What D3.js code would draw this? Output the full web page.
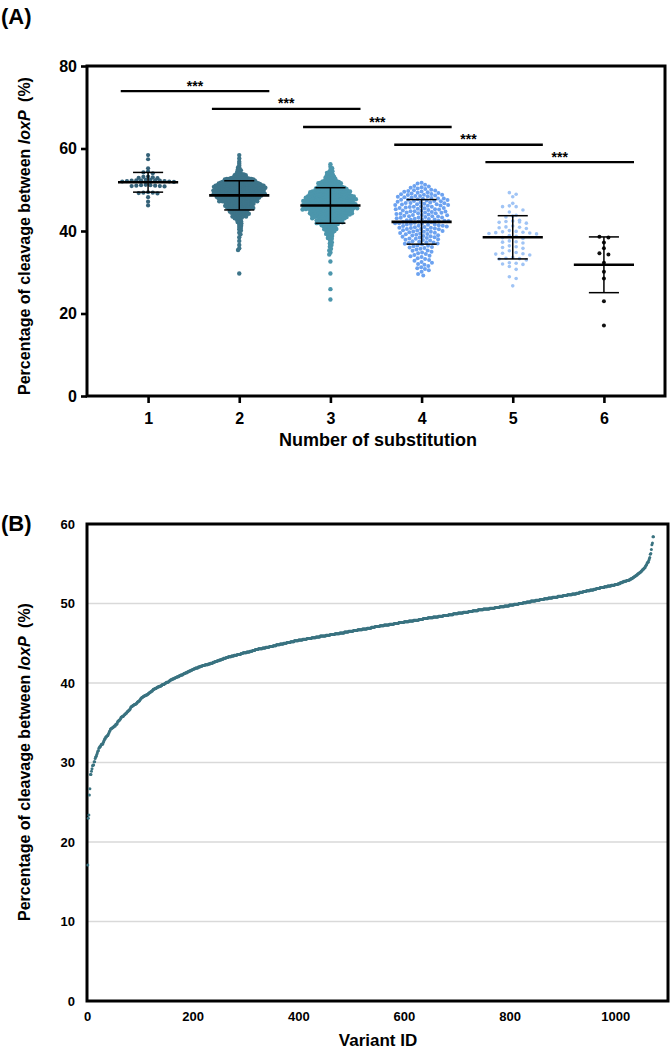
<!DOCTYPE html>
<html><head><meta charset="utf-8">
<script src="https://cdn.jsdelivr.net/npm/d3@7"></script>
<style>
body{margin:0;background:#fff}
svg{display:block;font-family:"Liberation Sans",Arial,sans-serif;font-weight:bold}
</style>
</head><body>
<svg id="chart" width="671" height="1050"></svg>
<script>
// ---------------- DATA ----------------
const groups = [1, 2, 3, 4, 5, 6];
const groupColors = ["#346178", "#3d7489", "#4c96ac", "#6ca2f0", "#a0c4f5", "#111111"];

// 1 substitution (individual values)
const sub1 = [58.4, 57.4, 55.2, 54.4, 54.2, 54.0, 53.2, 53.1, 53.0, 52.9, 52.8,
  52.4, 52.4, 52.3, 52.3, 52.3, 52.2, 52.2, 52.1, 52.1, 52.0, 52.0, 51.9,
  51.2, 51.1, 51.1, 51.0, 51.0, 50.9, 50.9, 50.8,
  49.4, 49.3, 49.3, 49.2, 49.1, 48.2, 47.1, 46.2];

// 2 substitutions ([value, count])
const sub2Freq = [
[58.4,1],[57.6,1],[56.8,1],[56.3,1],[55.8,1],[55.4,1],[55.1,1],
[54.9,1],[54.7,1],[54.5,1],[54.3,1],[54.1,1],
[53.9,1],[53.8,2],[53.7,1],[53.6,1],[53.5,2],[53.4,1],[53.3,1],[53.2,1],[53.1,1],[53.0,1],
[52.9,3],[52.8,3],[52.7,3],[52.6,3],[52.5,3],[52.4,3],[52.3,3],[52.2,4],[52.1,3],[52.0,4],
[51.9,4],[51.8,4],[51.7,4],[51.6,5],[51.5,4],[51.4,5],[51.3,4],[51.2,5],[51.1,5],[51.0,5],
[50.9,5],[50.8,6],[50.7,5],[50.6,5],[50.5,5],[50.4,6],[50.3,5],[50.2,5],[50.1,5],[50.0,5],
[49.9,5],[49.8,5],[49.7,5],[49.6,5],[49.5,5],[49.4,5],[49.3,5],[49.2,5],[49.1,5],[49.0,5],
[48.9,5],[48.8,4],[48.7,5],[48.6,4],[48.5,5],[48.4,4],[48.3,5],[48.2,4],[48.1,5],[48.0,4],
[47.9,4],[47.8,4],[47.7,4],[47.6,4],[47.5,4],[47.4,4],[47.3,4],[47.2,4],[47.1,3],[47.0,3],
[46.9,3],[46.8,3],[46.7,3],[46.6,3],[46.5,3],[46.4,3],[46.3,3],[46.2,3],[46.1,3],[46.0,3],
[45.9,3],[45.8,3],[45.7,3],[45.6,3],[45.5,3],[45.4,3],[45.3,2],[45.2,2],[45.1,2],[45.0,2],
[44.9,2],[44.8,2],[44.7,2],[44.6,2],[44.5,2],[44.4,2],[44.3,2],[44.2,2],[44.1,1],[44.0,1],
[43.9,1],[43.8,2],[43.7,1],[43.6,1],[43.5,2],[43.4,1],[43.3,1],[43.2,1],[43.1,1],[43.0,1],
[42.9,1],[42.7,1],[42.5,1],[42.3,1],[42.2,1],[42.0,1],
[41.8,1],[41.5,1],[41.3,1],[41.0,1],[40.7,1],[40.4,1],[40.1,1],
[39.6,1],[39.2,1],[38.5,1],[37.6,1],[36.6,1],[35.8,1],[35.4,1],[29.7,1]
];

// 3 substitutions ([value, count])
const sub3Freq = [
[56.2,1],[55.6,1],[55.2,1],[54.8,1],[54.5,1],[54.3,1],[54.1,1],
[53.9,1],[53.7,1],[53.6,1],[53.4,1],[53.3,1],[53.1,1],[53.0,1],
[52.9,1],[52.8,1],[52.6,1],[52.5,1],[52.4,1],[52.3,1],[52.2,1],[52.1,1],[52.0,2],
[51.9,2],[51.8,1],[51.7,2],[51.6,2],[51.5,1],[51.4,2],[51.3,2],[51.2,1],[51.1,2],[51.0,1],
[50.9,2],[50.8,2],[50.7,3],[50.6,2],[50.5,2],[50.4,2],[50.3,3],[50.2,2],[50.1,2],[50.0,2],
[49.9,3],[49.8,3],[49.7,3],[49.6,3],[49.5,3],[49.4,3],[49.3,3],[49.2,3],[49.1,3],[49.0,2],
[48.9,3],[48.8,4],[48.7,3],[48.6,4],[48.5,3],[48.4,4],[48.3,3],[48.2,4],[48.1,3],[48.0,3],
[47.9,4],[47.8,4],[47.7,4],[47.6,4],[47.5,4],[47.4,4],[47.3,4],[47.2,3],[47.1,4],[47.0,3],
[46.9,4],[46.8,4],[46.7,4],[46.6,4],[46.5,4],[46.4,4],[46.3,4],[46.2,4],[46.1,4],[46.0,4],
[45.9,4],[45.8,4],[45.7,4],[45.6,4],[45.5,4],[45.4,4],[45.3,4],[45.2,4],[45.1,3],[45.0,3],
[44.9,4],[44.8,3],[44.7,3],[44.6,3],[44.5,3],[44.4,3],[44.3,4],[44.2,3],[44.1,3],[44.0,3],
[43.9,3],[43.8,3],[43.7,2],[43.6,3],[43.5,3],[43.4,2],[43.3,3],[43.2,2],[43.1,3],[43.0,2],
[42.9,2],[42.8,2],[42.7,2],[42.6,2],[42.5,2],[42.4,2],[42.3,2],[42.2,2],[42.1,2],[42.0,2],
[41.9,2],[41.8,1],[41.7,2],[41.6,1],[41.5,1],[41.4,2],[41.3,1],[41.2,1],[41.1,1],[41.0,1],
[40.9,1],[40.8,1],[40.7,1],[40.6,1],[40.5,1],[40.4,1],[40.3,1],[40.2,1],[40.1,1],[40.0,1],
[39.8,1],[39.6,1],[39.5,1],[39.3,1],[39.2,1],[39.0,1],
[38.8,1],[38.5,1],[38.3,1],[38.1,1],[37.7,1],[37.3,1],[37.0,1],
[36.6,1],[36.2,1],[35.7,1],[35.3,1],[34.8,1],[34.3,1],
[32.6,1],[29.7,1],[25.9,1],[23.4,1]
];

// 4 substitutions ([value, count])
const sub4Freq = [
[51.7,1],[51.5,1],[51.2,1],
[50.9,1],[50.8,1],[50.6,1],[50.5,1],[50.3,1],[50.2,1],[50.0,1],
[49.9,1],[49.8,1],[49.7,1],[49.6,1],[49.5,1],[49.4,1],[49.3,1],[49.2,1],[49.1,1],[49.0,1],
[48.9,1],[48.8,2],[48.7,1],[48.6,1],[48.5,2],[48.4,1],[48.3,1],[48.2,1],[48.1,1],[48.0,1],
[47.9,2],[47.8,1],[47.7,1],[47.6,2],[47.5,1],[47.4,1],[47.3,2],[47.2,1],[47.1,1],[47.0,1],
[46.9,1],[46.8,2],[46.7,1],[46.6,1],[46.5,2],[46.4,1],[46.3,2],[46.2,1],[46.1,1],[46.0,1],
[45.9,2],[45.8,1],[45.7,1],[45.6,2],[45.5,1],[45.4,1],[45.3,2],[45.2,1],[45.1,1],[45.0,1],
[44.9,1],[44.8,2],[44.7,1],[44.6,1],[44.5,2],[44.4,1],[44.3,2],[44.2,1],[44.1,1],[44.0,1],
[43.9,2],[43.8,1],[43.7,1],[43.6,2],[43.5,1],[43.4,1],[43.3,2],[43.2,1],[43.1,1],[43.0,1],
[42.9,1],[42.8,2],[42.7,1],[42.6,1],[42.5,2],[42.4,1],[42.3,2],[42.2,1],[42.1,1],[42.0,1],
[41.9,2],[41.8,1],[41.7,1],[41.6,2],[41.5,1],[41.4,1],[41.3,2],[41.2,1],[41.1,1],[41.0,1],
[40.9,1],[40.8,2],[40.7,1],[40.6,1],[40.5,2],[40.4,1],[40.3,1],[40.2,1],[40.1,1],[40.0,1],
[39.9,1],[39.8,2],[39.7,1],[39.6,1],[39.5,1],[39.4,1],[39.3,1],[39.2,1],[39.1,1],[39.0,1],
[38.9,1],[38.8,1],[38.7,1],[38.6,1],[38.5,1],[38.4,1],[38.3,1],[38.2,1],[38.1,1],[38.0,1],
[37.9,1],[37.8,1],[37.7,1],[37.5,1],[37.4,1],[37.3,1],[37.2,1],[37.1,1],[37.0,1],
[36.9,1],[36.7,1],[36.5,1],[36.4,1],[36.3,1],[36.1,1],[36.0,1],
[35.9,1],[35.7,1],[35.5,1],[35.3,1],[35.2,1],[35.0,1],
[34.8,1],[34.6,1],[34.4,1],[34.2,1],[34.0,1],
[33.9,1],[33.7,1],[33.4,1],[33.2,1],[33.0,1],
[32.8,1],[32.5,1],[32.3,1],[32.0,1],
[31.8,1],[31.5,1],[31.2,1],[31.0,1],
[30.8,1],[30.5,1],[30.1,1],[29.6,1],[29.2,1]
];

// 5 substitutions (individual values)
const sub5 = [49.3, 48.9, 48.3, 46.7, 46.1, 45.9, 45.9, 45.1, 44.6, 43.8,
  43.6, 43.4, 42.6, 42.4, 42.3, 42.2, 42.1, 41.9, 41.2, 41.0,
  40.9, 40.8, 40.6, 40.1, 39.9, 39.8, 39.7, 39.6, 39.5, 39.4,
  39.3, 38.9, 38.7, 38.4, 38.2, 37.6, 37.4, 37.3, 37.1, 36.4,
  36.2, 36.0, 35.8, 35.2, 34.8, 34.6, 34.5, 34.4, 34.2, 33.6,
  33.4, 33.3, 33.2, 33.0, 32.3, 32.2, 32.0, 31.9, 31.4, 30.7,
  28.9, 28.5, 26.7];

// 6 substitutions (individual values)
const sub6 = [38.6, 38.4, 37.2, 35.8, 34.6, 34.3, 32.3, 30.1, 28.5, 23.0, 17.1];

const yTicksA = [0, 20, 40, 60, 80];
const sigPairs = [[1, 2], [2, 3], [3, 4], [4, 5], [5, 6]];
const sigY = [73.9, 69.6, 65.2, 60.9, 56.7];
const sigLabel = "***";

const xTicksB = [0, 200, 400, 600, 800, 1000];
const yTicksB = [0, 10, 20, 30, 40, 50, 60];
const gridB = [10, 20, 30, 40, 50];
const colorB = "#3a7380";

// ---------------- HELPERS ----------------
const expand = f => f.flatMap(([v, c]) => d3.range(c).map(() => v));
const groupValues = [sub1, expand(sub2Freq), expand(sub3Freq), expand(sub4Freq), sub5, sub6];

const svg = d3.select("#chart");

// ================= PANEL A =================
const xA = d3.scaleLinear().domain([0.33, 6.67]).range([87, 665]);
const yA = d3.scaleLinear().domain([0, 80]).range([396, 66]);

// collision swarm (dense columns)
function place(values, dd) {
  const pts = values.map(v => ({v, y: yA(v)})).sort((a, b) => a.y - b.y);
  const placed = [];
  let side = 1;
  for (const p of pts) {
    const near = placed.filter(q => Math.abs(q.y - p.y) < dd);
    const cands = [0];
    for (const q of near) {
      const h = Math.sqrt(dd * dd - (q.y - p.y) ** 2);
      cands.push(q.dx + h, q.dx - h);
    }
    let best = null;
    for (const c of cands) {
      const ok = near.every(q => (q.dx - c) ** 2 + (q.y - p.y) ** 2 >= dd * dd - 1e-6);
      if (!ok) continue;
      if (best === null || Math.abs(c) < Math.abs(best) - 1e-9 ||
          (Math.abs(Math.abs(c) - Math.abs(best)) < 1e-9 && c * side > 0)) best = c;
    }
    p.dx = best;
    side = -side;
    placed.push(p);
  }
  return pts;
}
function swarm(values, d, maxW) {
  let dd = d, res;
  for (let it = 0; it < 10; it++) {
    res = place(values, dd);
    const w = 2 * d3.max(res, p => Math.abs(p.dx));
    if (w <= maxW) break;
    dd *= Math.max(0.7, Math.sqrt(maxW / w) * 0.99);
  }
  return res;
}
// row layout (sparse columns, Prism-like rows)
function rowLayout(values, rowH, dx) {
  const bins = d3.group(values, v => Math.round(v / rowH));
  const out = [];
  for (const arr of bins.values()) {
    const s = arr.slice().sort(d3.descending);
    const n = s.length;
    const slots = d3.range(n).map(j => (j - (n - 1) / 2) * dx)
      .sort((a, b) => Math.abs(a) - Math.abs(b) || a - b);
    s.forEach((v, j) => out.push({v, y: yA(v), dx: slots[j]}));
  }
  return out;
}

const dotR = [2.1, 2.2, 2.2, 2.0, 1.8, 2.0];
const layouts = [
  vals => rowLayout(vals, 1.0, 4.7),
  vals => swarm(vals, 4.5, 57),
  vals => swarm(vals, 4.5, 57),
  vals => swarm(vals, 4.5, 57),
  vals => rowLayout(vals, 1.2, 6.8),
  vals => rowLayout(vals, 1.2, 9.0)
];
const gA = svg.append("g");

groupValues.forEach((vals, i) => {
  const g = groups[i];
  const pts = layouts[i](vals);
  gA.append("g").selectAll("circle").data(pts).join("circle")
    .attr("cx", p => xA(g) + p.dx)
    .attr("cy", p => p.y)
    .attr("r", dotR[i])
    .attr("fill", groupColors[i]);
});

// mean and SD
groupValues.forEach((vals, i) => {
  const g = groups[i];
  const m = d3.mean(vals), s = d3.deviation(vals);
  const gg = gA.append("g").attr("stroke", "#000");
  gg.append("line").attr("x1", xA(g - 0.33)).attr("x2", xA(g + 0.33))
    .attr("y1", yA(m)).attr("y2", yA(m)).attr("stroke-width", 2.6);
  gg.append("line").attr("x1", xA(g)).attr("x2", xA(g))
    .attr("y1", yA(m + s)).attr("y2", yA(m - s)).attr("stroke-width", 1.5);
  [m + s, m - s].forEach(v => gg.append("line")
    .attr("x1", xA(g - 0.165)).attr("x2", xA(g + 0.165))
    .attr("y1", yA(v)).attr("y2", yA(v)).attr("stroke-width", 1.5));
});

// significance bars
sigPairs.forEach(([a, b], i) => {
  const y = yA(sigY[i]);
  const x1 = xA(a - 0.3), x2 = xA(b + 0.33);
  gA.append("line").attr("x1", x1).attr("x2", x2).attr("y1", y).attr("y2", y)
    .attr("stroke", "#000").attr("stroke-width", 2.4);
  gA.append("text").attr("x", (x1 + x2) / 2).attr("y", y - 0.5)
    .attr("text-anchor", "middle").attr("font-size", 14).text(sigLabel);
});

// frame
gA.append("rect").attr("x", 87).attr("y", 66).attr("width", 578).attr("height", 330)
  .attr("fill", "none").attr("stroke", "#000").attr("stroke-width", 3);

// axes
const axA_L = gA.append("g").attr("transform", "translate(87,0)")
  .call(d3.axisLeft(yA).tickValues(yTicksA).tickSize(6).tickPadding(4));
const axA_B = gA.append("g").attr("transform", "translate(0,396)")
  .call(d3.axisBottom(xA).tickValues(groups).tickSize(7).tickPadding(10).tickFormat(d3.format("d")));
[axA_L, axA_B].forEach(ax => {
  ax.select(".domain").remove();
  ax.selectAll(".tick line").attr("stroke", "#000").attr("stroke-width", 2.6);
  ax.selectAll(".tick text").attr("font-size", 16).attr("font-weight", "bold")
    .attr("fill", "#000").attr("font-family", "Liberation Sans, Arial, sans-serif");
});

gA.append("text").attr("x", 378).attr("y", 446).attr("text-anchor", "middle")
  .attr("font-size", 18).text("Number of substitution");

function yTitle(cx, cy) {
  const t = svg.append("text").attr("transform", `translate(${cx},${cy}) rotate(-90)`)
    .attr("text-anchor", "middle").attr("font-size", 16);
  t.append("tspan").text("Percentage of cleavage between ");
  t.append("tspan").attr("font-style", "italic").text("loxP");
  t.append("tspan").attr("dx", 4).text(" (%)");
}
yTitle(30, 236);

svg.append("text").attr("x", 1).attr("y", 24).attr("font-size", 22).text("(A)");

// ================= PANEL B =================
const allValues = groupValues.flat().sort(d3.ascending);
const xB = d3.scaleLinear().domain([0, 1100]).range([87, 668]);
const yB = d3.scaleLinear().domain([0, 60]).range([1001, 524]);
const gB = svg.append("g");

gB.append("g").selectAll("line").data(gridB).join("line")
  .attr("x1", 87).attr("x2", 668).attr("y1", d => yB(d)).attr("y2", d => yB(d))
  .attr("stroke", "#d9d9d9").attr("stroke-width", 1.3);

gB.append("rect").attr("x", 87).attr("y", 524).attr("width", 581).attr("height", 477)
  .attr("fill", "none").attr("stroke", "#000").attr("stroke-width", 3);

gB.append("g").selectAll("circle").data(allValues).join("circle")
  .attr("cx", (d, i) => xB(i + 1.5))
  .attr("cy", d => yB(d))
  .attr("r", 1.5)
  .attr("fill", colorB);

const axB_L = gB.append("g").attr("transform", "translate(87,0)")
  .call(d3.axisLeft(yB).tickValues(yTicksB).tickSize(0).tickPadding(12));
const axB_B = gB.append("g").attr("transform", "translate(0,1001)")
  .call(d3.axisBottom(xB).tickValues(xTicksB).tickSize(0).tickPadding(11).tickFormat(d3.format("d")));
[axB_L, axB_B].forEach(ax => {
  ax.select(".domain").remove();
  ax.selectAll(".tick text").attr("font-size", 13).attr("font-weight", "bold")
    .attr("fill", "#000").attr("font-family", "Liberation Sans, Arial, sans-serif");
});

gB.append("text").attr("x", 378).attr("y", 1046).attr("text-anchor", "middle")
  .attr("font-size", 17).text("Variant ID");
yTitle(30, 762);
svg.append("text").attr("x", 1).attr("y", 531).attr("font-size", 22).text("(B)");
</script>
</body></html>
